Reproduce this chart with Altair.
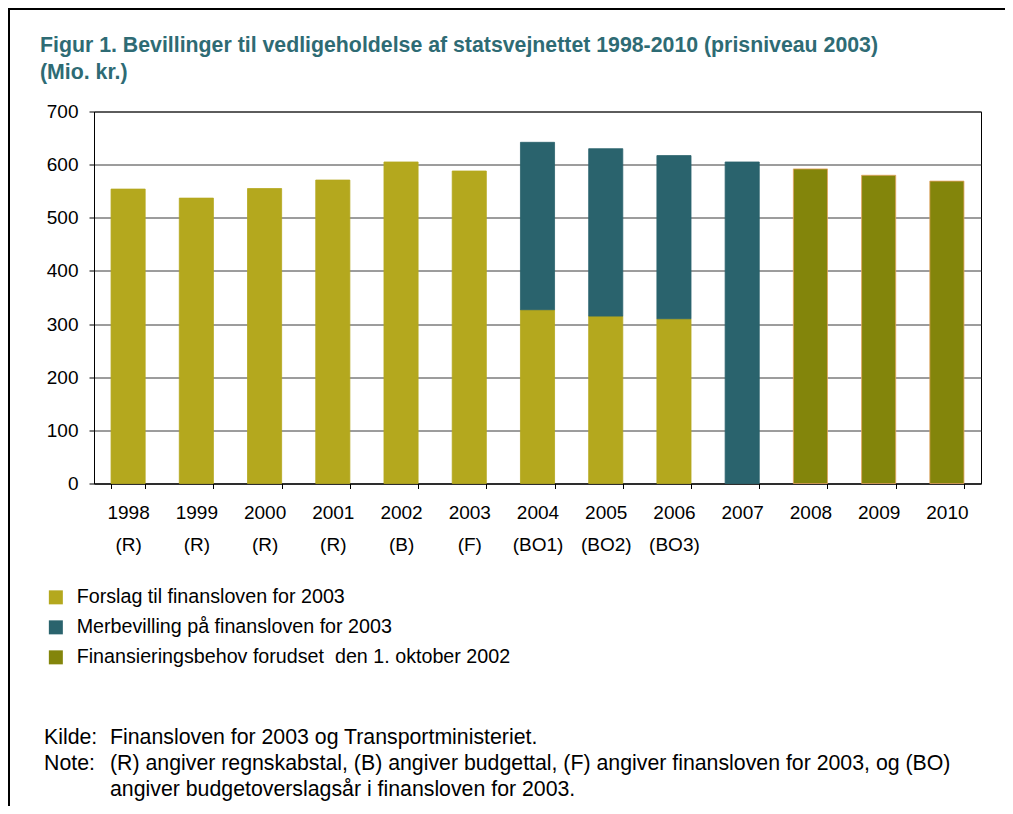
import altair as alt
import pandas as pd

years = ["1998", "1999", "2000", "2001", "2002", "2003", "2004", "2005", "2006", "2007", "2008", "2009", "2010"]
suffix = ["(R)", "(R)", "(R)", "(R)", "(B)", "(F)", "(BO1)", "(BO2)", "(BO3)", "", "", "", ""]
forslag = [554, 537, 555, 571, 605, 588, 327, 315, 310, 0, 0, 0, 0]
merbevilling = [0, 0, 0, 0, 0, 0, 315, 315, 307, 605, 0, 0, 0]
finansiering = [0, 0, 0, 0, 0, 0, 0, 0, 0, 0, 592, 580, 569]

series = ["Forslag til finansloven for 2003",
          "Merbevilling på finansloven for 2003",
          "Finansieringsbehov forudset\u00a0 den 1. oktober 2002"]
colors = ["#B4A81E", "#2A636D", "#83850B"]
strokes = ["#B4A81E", "#2A636D", "#E2A35F"]

title_lines = ["Figur 1. Bevillinger til vedligeholdelse af statsvejnettet 1998-2010 (prisniveau 2003)",
               "(Mio. kr.)"]
kilde_label = "Kilde:"
kilde_text = "Finansloven for 2003 og Transportministeriet."
note_label = "Note:"
note_text1 = "(R) angiver regnskabstal, (B) angiver budgettal, (F) angiver finansloven for 2003, og (BO)"
note_text2 = "angiver budgetoverslagsår i finansloven for 2003."

labels = [f"{y}\n{s}" if s else y for y, s in zip(years, suffix)]
rows = []
for i, lab in enumerate(labels):
    for k, vals in enumerate([forslag, merbevilling, finansiering]):
        if vals[i] > 0:
            rows.append({"aar": lab, "serie": series[k], "vaerdi": vals[i], "orden": k})
df = pd.DataFrame(rows)

FONT = "Liberation Sans"

bars = alt.Chart(df).mark_bar(strokeWidth=1, strokeOpacity=0.8).encode(
    x=alt.X("aar:N", sort=labels, title=None,
            scale=alt.Scale(paddingInner=0.5, paddingOuter=0.25),
            axis=alt.Axis(labelExpr="split(datum.label, '\\n')", labelAngle=0,
                          labelFontSize=19, labelFont=FONT, labelColor="#000",
                          labelLineHeight=32, labelPadding=15,
                          tickBand="extent", tickSize=5, tickColor="#000",
                          domainColor="#000", grid=False)),
    y=alt.Y("vaerdi:Q", stack="zero", title=None,
            scale=alt.Scale(domain=[0, 700]),
            axis=alt.Axis(values=[0, 100, 200, 300, 400, 500, 600, 700],
                          labelFontSize=19, labelFont=FONT, labelColor="#000",
                          labelPadding=11, tickSize=5, tickColor="#000",
                          domainColor="#000", gridColor="#3a3a3a", gridWidth=1)),
    color=alt.Color("serie:N", sort=series,
                    scale=alt.Scale(domain=series, range=colors),
                    legend=alt.Legend(title=None, orient="none", legendX=-48, legendY=476,
                                      symbolType="square", symbolSize=196, symbolStrokeWidth=0,
                                      labelFontSize=19.7, labelFont=FONT, labelColor="#000",
                                      labelLimit=700, labelOffset=11, rowPadding=9)),
    stroke=alt.Stroke("serie:N", scale=alt.Scale(domain=series, range=strokes), legend=None),
    order=alt.Order("orden:Q"),
)

def txt(s, x, y, size=21.3, bold=False, color="#000", baseline="middle"):
    return alt.Chart(pd.DataFrame({"t": [s]})).mark_text(
        align="left", baseline=baseline, fontSize=size, font=FONT, color=color,
        fontWeight="bold" if bold else "normal"
    ).encode(text="t:N", x=alt.value(x), y=alt.value(y))

title_marks = [
    txt(title_lines[0], -54, -59.5, size=21.3, bold=True, color="#2E6B74", baseline="alphabetic"),
    txt(title_lines[1], -54, -32.5, size=21.3, bold=True, color="#2E6B74", baseline="alphabetic"),
]

footer = [
    txt(kilde_label, -50, 626),
    txt(kilde_text, 16, 626),
    txt(note_label, -50, 652),
    txt(note_text1, 16, 652),
    txt(note_text2, 16, 678),
]

frame_df = pd.DataFrame({"k": [0]})
left_line = alt.Chart(frame_df).mark_rule(color="#000", strokeWidth=2).encode(
    x=alt.value(-85), y=alt.value(-102.5), y2=alt.value(700))
top_line = alt.Chart(frame_df).mark_rule(color="#000", strokeWidth=2).encode(
    x=alt.value(-86), x2=alt.value(915), y=alt.value(-102.5))

chart = alt.layer(bars, *title_marks, *footer, left_line, top_line).properties(
    width=887, height=372,
    padding={"left": 86, "top": 103.5, "right": 24, "bottom": 322},
    autosize=alt.AutoSizeParams(type="none"),
).configure_view(stroke="#000", strokeWidth=1)

chart.save("out.html", embed_options={"renderer": "svg", "actions": False})
